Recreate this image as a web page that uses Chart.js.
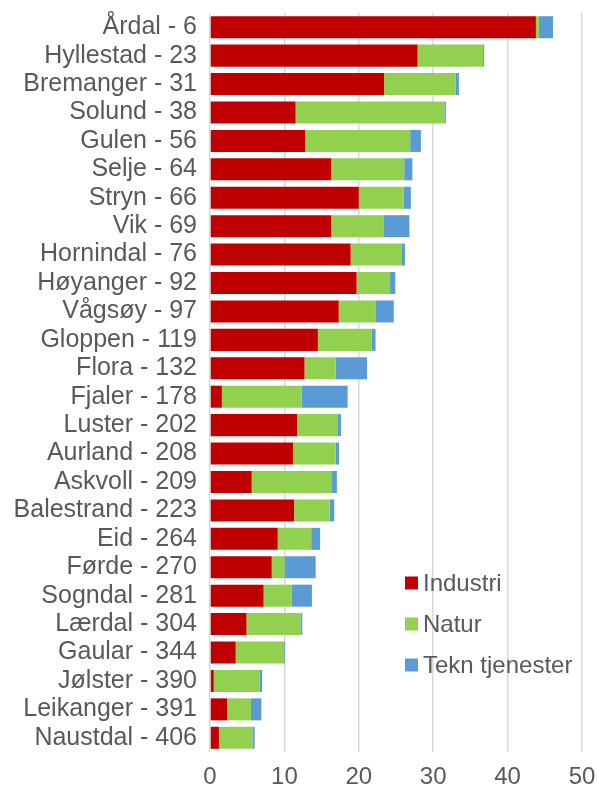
<!DOCTYPE html>
<html><head><meta charset="utf-8">
<script src="https://cdn.jsdelivr.net/npm/chart.js@4/dist/chart.umd.min.js"></script>
<style>html,body{margin:0;padding:0;background:#fff;}#wrap{width:597px;height:789px;}</style>
</head><body><div id="wrap"><canvas id="c" width="597" height="789"></canvas></div>
<script>
const categories = ["Årdal - 6","Hyllestad - 23","Bremanger - 31","Solund - 38","Gulen - 56","Selje - 64","Stryn - 66","Vik - 69","Hornindal - 76","Høyanger - 92","Vågsøy - 97","Gloppen - 119","Flora - 132","Fjaler - 178","Luster - 202","Aurland - 208","Askvoll - 209","Balestrand - 223","Eid - 264","Førde - 270","Sogndal - 281","Lærdal - 304","Gaular - 344","Jølster - 390","Leikanger - 391","Naustdal - 406"];
const industri = [43.8,27.9,23.4,11.5,12.8,16.3,20.0,16.3,18.9,19.7,17.3,14.5,12.7,1.6,11.7,11.15,5.6,11.3,9.1,8.3,7.2,4.9,3.45,0.5,2.3,1.2];
const natur =    [0.4,8.8,9.6,20.0,14.1,9.8,6.0,7.0,6.9,4.5,5.0,7.2,4.2,10.7,5.5,5.75,10.8,4.8,4.5,1.7,3.8,7.25,6.4,6.2,3.2,4.5];
const tekn =     [1.9,0.15,0.45,0.2,1.45,1.1,1.0,3.5,0.4,0.7,2.4,0.55,4.2,6.2,0.4,0.45,0.65,0.6,1.2,4.2,2.7,0.25,0.2,0.3,1.4,0.3];
const seriesNames = ["Industri","Natur","Tekn tjenester"];
const xTicks = [0,10,20,30,40,50];

const FONT = '"Liberation Sans", Arial, sans-serif';
const legendPlugin = {
  id: 'customLegend',
  afterDraw(chart) {
    const ctx = chart.ctx;
    ctx.save();
    ctx.font = '24px ' + FONT;
    ctx.textBaseline = 'middle';
    const x0 = 405, y0 = 583, step = 41;
    chart.data.datasets.forEach((ds, i) => {
      const y = y0 + i * step;
      ctx.fillStyle = ds.backgroundColor;
      ctx.fillRect(x0, y - 6.5, 13, 13);
      ctx.fillStyle = '#595959';
      ctx.fillText(ds.label, x0 + 18, y + 1);
    });
    ctx.restore();
  }
};

new Chart(document.getElementById('c'), {
  type: 'bar',
  data: {
    labels: categories,
    datasets: [
      {label: seriesNames[0], data: industri, backgroundColor: '#C00000'},
      {label: seriesNames[1], data: natur, backgroundColor: '#92D050'},
      {label: seriesNames[2], data: tekn, backgroundColor: '#5B9BD5'}
    ]
  },
  options: {
    indexAxis: 'y',
    responsive: false,
    animation: false,
    layout: {padding: {top: 13, right: 0, bottom: 0, left: 0}},
    datasets: {bar: {categoryPercentage: 0.775, barPercentage: 1.0, borderWidth: 0}},
    plugins: {legend: {display: false}, tooltip: {enabled: false}},
    scales: {
      x: {
        stacked: true, min: 0, max: 50,
        afterBuildTicks: (s) => { s.ticks = xTicks.map(v => ({value: v})); },
        afterFit: (s) => { s.height = 37; s.paddingLeft = 0; s.paddingRight = 15; },
        grid: {color: '#d9d9d9', lineWidth: 1.5, drawTicks: false},
        border: {display: false},
        ticks: {color: '#595959', font: {size: 24, family: FONT}, padding: 11}
      },
      y: {
        stacked: true,
        afterFit: (s) => { s.width = 210; s.paddingTop = 0; s.paddingBottom = 0; },
        grid: {display: false, drawTicks: false},
        border: {display: false},
        ticks: {color: '#595959', font: {size: 25, family: FONT}, padding: 13, autoSkip: false}
      }
    }
  },
  plugins: [legendPlugin]
});
</script></body></html>
